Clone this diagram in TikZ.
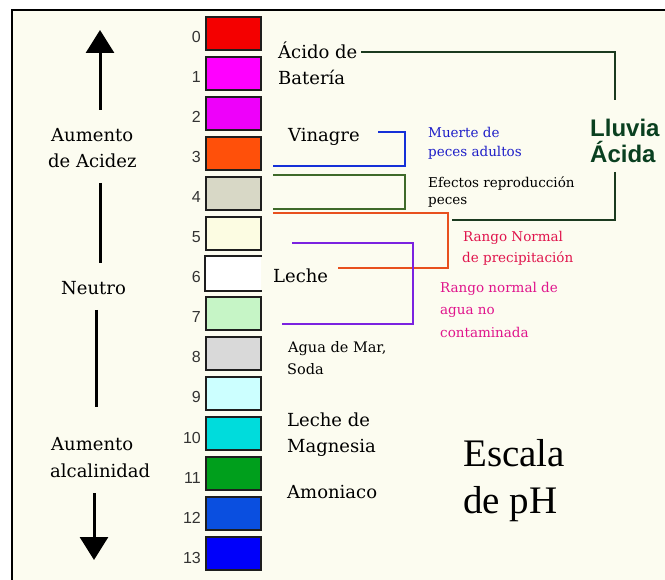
\documentclass[tikz,border=0pt]{standalone}
\usepackage{fontspec}
\setmainfont{DejaVu Serif}
\newfontfamily\numfont{Liberation Sans}
\newfontfamily\titlefont{Liberation Serif}
\usetikzlibrary{arrows.meta}

\newlength{\du}
\setlength{\du}{1pt}

\definecolor{fondo}{HTML}{FCFCF0}
\definecolor{borde}{HTML}{1E1E1E}
\definecolor{ph0}{HTML}{F40000}
\definecolor{ph1}{HTML}{FF00FF}
\definecolor{ph2}{HTML}{EE00FA}
\definecolor{ph3}{HTML}{FF500A}
\definecolor{ph4}{HTML}{D8D8C6}
\definecolor{ph5}{HTML}{FCFCE2}
\definecolor{ph6}{HTML}{FFFFFF}
\definecolor{ph7}{HTML}{C6F5C6}
\definecolor{ph8}{HTML}{D9D9D9}
\definecolor{ph9}{HTML}{CCFFFF}
\definecolor{ph10}{HTML}{00DCDC}
\definecolor{ph11}{HTML}{009F1C}
\definecolor{ph12}{HTML}{0A4FE0}
\definecolor{ph13}{HTML}{0000FA}
\definecolor{lluvialinea}{HTML}{1B3A1F}
\definecolor{lluviatexto}{HTML}{0A4020}
\definecolor{azul}{HTML}{1530D8}
\definecolor{azultexto}{HTML}{1E1EC8}
\definecolor{verde}{HTML}{3F6A2A}
\definecolor{naranja}{HTML}{E8501E}
\definecolor{morado}{HTML}{7B22E0}
\definecolor{rojotexto}{HTML}{E0144C}
\definecolor{rosatexto}{HTML}{E0148C}

\tikzset{
  phbox/.style={draw=borde, line width=1.6pt, minimum width=55pt,
    minimum height=33pt, inner sep=0pt},
  phnum/.style={anchor=base east, inner sep=0pt, text=black!80,
    font=\numfont\fontsize{16}{18}\selectfont},
  etiqueta/.style={anchor=base west, inner sep=0pt,
    font=\fontsize{18}{20}\selectfont},
  chica/.style={anchor=base west, inner sep=0pt,
    font=\fontsize{13.5}{15}\selectfont},
  corchete/.style={line width=2pt},
  flecha/.style={line width=3pt, -{Triangle[width=28pt,length=23pt]}},
}

\begin{document}
\begin{tikzpicture}
\pgftransformxscale{1.000000}
\pgftransformyscale{-1.000000}
\useasboundingbox (0\du,0\du) rectangle (665\du,580\du);
% background and frame
\fill[fondo] (12\du,10\du) rectangle (665\du,580\du);
\draw[line width=2pt] (12\du,580\du) -- (12\du,10\du) -- (665\du,10\du);
% left column
\draw[flecha] (100\du,110\du) -- (100\du,30\du);
\node[etiqueta] (acidez1) at (51\du,142\du){Aumento};
\node[etiqueta] (acidez2) at (48\du,168\du){de Acidez};
\draw[line width=3pt] (100\du,183\du) -- (100\du,263\du);
\node[etiqueta] (neutro) at (61\du,295\du){Neutro};
\draw[line width=3pt] (96\du,310\du) -- (96\du,407\du);
\node[etiqueta] (alcali1) at (51\du,450\du){Aumento};
\node[etiqueta] (alcali2) at (50\du,478\du){alcalinidad};
\draw[flecha] (94\du,493\du) -- (94\du,560\du);
% colour boxes
\node[phbox, fill=ph0] (b0) at (233.5\du,33.5\du){};
\node[phbox, fill=ph1] (b1) at (233.5\du,73.5\du){};
\node[phbox, fill=ph2] (b2) at (233.5\du,113.5\du){};
\node[phbox, fill=ph3] (b3) at (233.5\du,153.5\du){};
\node[phbox, fill=ph4] (b4) at (233.5\du,193.5\du){};
\node[phbox, fill=ph5] (b5) at (233.5\du,233.5\du){};
\node[phbox, fill=ph6, draw=none] (b6) at (233.5\du,273.5\du){};
\draw[line width=1.6pt, borde] (b6.north east) -- (b6.north west) -- (b6.south west) -- (b6.south east);
\node[phbox, fill=ph7] (b7) at (233.5\du,313.5\du){};
\node[phbox, fill=ph8] (b8) at (233.5\du,353.5\du){};
\node[phbox, fill=ph9] (b9) at (233.5\du,393.5\du){};
\node[phbox, fill=ph10] (b10) at (233.5\du,433.5\du){};
\node[phbox, fill=ph11] (b11) at (233.5\du,473.5\du){};
\node[phbox, fill=ph12] (b12) at (233.5\du,513.5\du){};
\node[phbox, fill=ph13] (b13) at (233.5\du,553.5\du){};
% numbers
\node[phnum] (n0) at (201\du,43\du){0};
\node[phnum] (n1) at (201\du,83\du){1};
\node[phnum] (n2) at (201\du,123\du){2};
\node[phnum] (n3) at (201\du,163\du){3};
\node[phnum] (n4) at (201\du,203\du){4};
\node[phnum] (n5) at (201\du,243\du){5};
\node[phnum] (n6) at (201\du,283\du){6};
\node[phnum] (n7) at (201\du,323\du){7};
\node[phnum] (n8) at (201\du,363\du){8};
\node[phnum] (n9) at (201\du,403\du){9};
\node[phnum] (n10) at (201\du,443\du){10};
\node[phnum] (n11) at (201\du,483\du){11};
\node[phnum] (n12) at (201\du,523\du){12};
\node[phnum] (n13) at (201\du,563\du){13};
% substances
\node[etiqueta] (acido) at (278\du,59\du){Ácido de};
\node[etiqueta] (bateria) at (278\du,85\du){Batería};
\node[etiqueta] (vinagre) at (288\du,142\du){Vinagre};
\node[etiqueta] (leche) at (273\du,283\du){Leche};
\node[chica, font=\fontsize{14.5}{16}\selectfont] (agua) at (288\du,353\du){Agua de Mar,};
\node[chica, font=\fontsize{14.5}{16}\selectfont] (soda) at (287\du,375\du){Soda};
\node[etiqueta] (magnesia1) at (287\du,427\du){Leche de};
\node[etiqueta] (magnesia2) at (287\du,453\du){Magnesia};
\node[etiqueta] (amoniaco) at (287\du,498\du){Amoniaco};
% brackets
\coordinate (lluviaA) at (361\du,52\du);
\coordinate (lluviaB) at (615\du,100\du);
\coordinate (lluviaC) at (615\du,172\du);
\coordinate (lluviaD) at (452\du,220\du);
\draw[corchete, lluvialinea] (lluviaA) -| (lluviaB);
\draw[corchete, lluvialinea] (lluviaC) |- (lluviaD);
\draw[corchete, azul] (378\du,132\du) -| (405\du,166\du) -- (273\du,166\du);
\draw[corchete, verde] (273\du,175\du) -| (405\du,209\du) -- (273\du,209\du);
\draw[corchete, naranja] (273\du,213\du) -| (448\du,268\du) -- (338\du,268\du);
\draw[corchete, morado] (292\du,243\du) -| (413\du,324\du) -- (282\du,324\du);
% effects
\node[anchor=base west, inner sep=0pt, text=lluviatexto, font=\numfont\bfseries\fontsize{24}{26}\selectfont] (lluvia1) at (590\du,137\du){Lluvia};
\node[anchor=base west, inner sep=0pt, text=lluviatexto, font=\numfont\bfseries\fontsize{24}{26}\selectfont] (lluvia2) at (590\du,163\du){Ácida};
\node[chica, text=azultexto] (muerte1) at (428\du,138\du){Muerte de};
\node[chica, text=azultexto] (muerte2) at (428\du,157\du){peces adultos};
\node[chica] (efectos1) at (428\du,188\du){Efectos reproducción};
\node[chica] (efectos2) at (428\du,205\du){peces};
\node[chica, text=rojotexto] (precip1) at (463\du,242\du){Rango Normal};
\node[chica, text=rojotexto] (precip2) at (462\du,263\du){de precipitación};
\node[chica, text=rosatexto] (nocont1) at (440\du,293\du){Rango normal de};
\node[chica, text=rosatexto] (nocont2) at (440\du,315\du){agua no};
\node[chica, text=rosatexto] (nocont3) at (440\du,338\du){contaminada};
% title
\node[anchor=base west, inner sep=0pt, font=\titlefont\fontsize{39}{42}\selectfont] (titulo1) at (463\du,467\du){Escala};
\node[anchor=base west, inner sep=0pt, font=\titlefont\fontsize{39}{42}\selectfont] (titulo2) at (463\du,514\du){de pH};
\end{tikzpicture}
\end{document}
